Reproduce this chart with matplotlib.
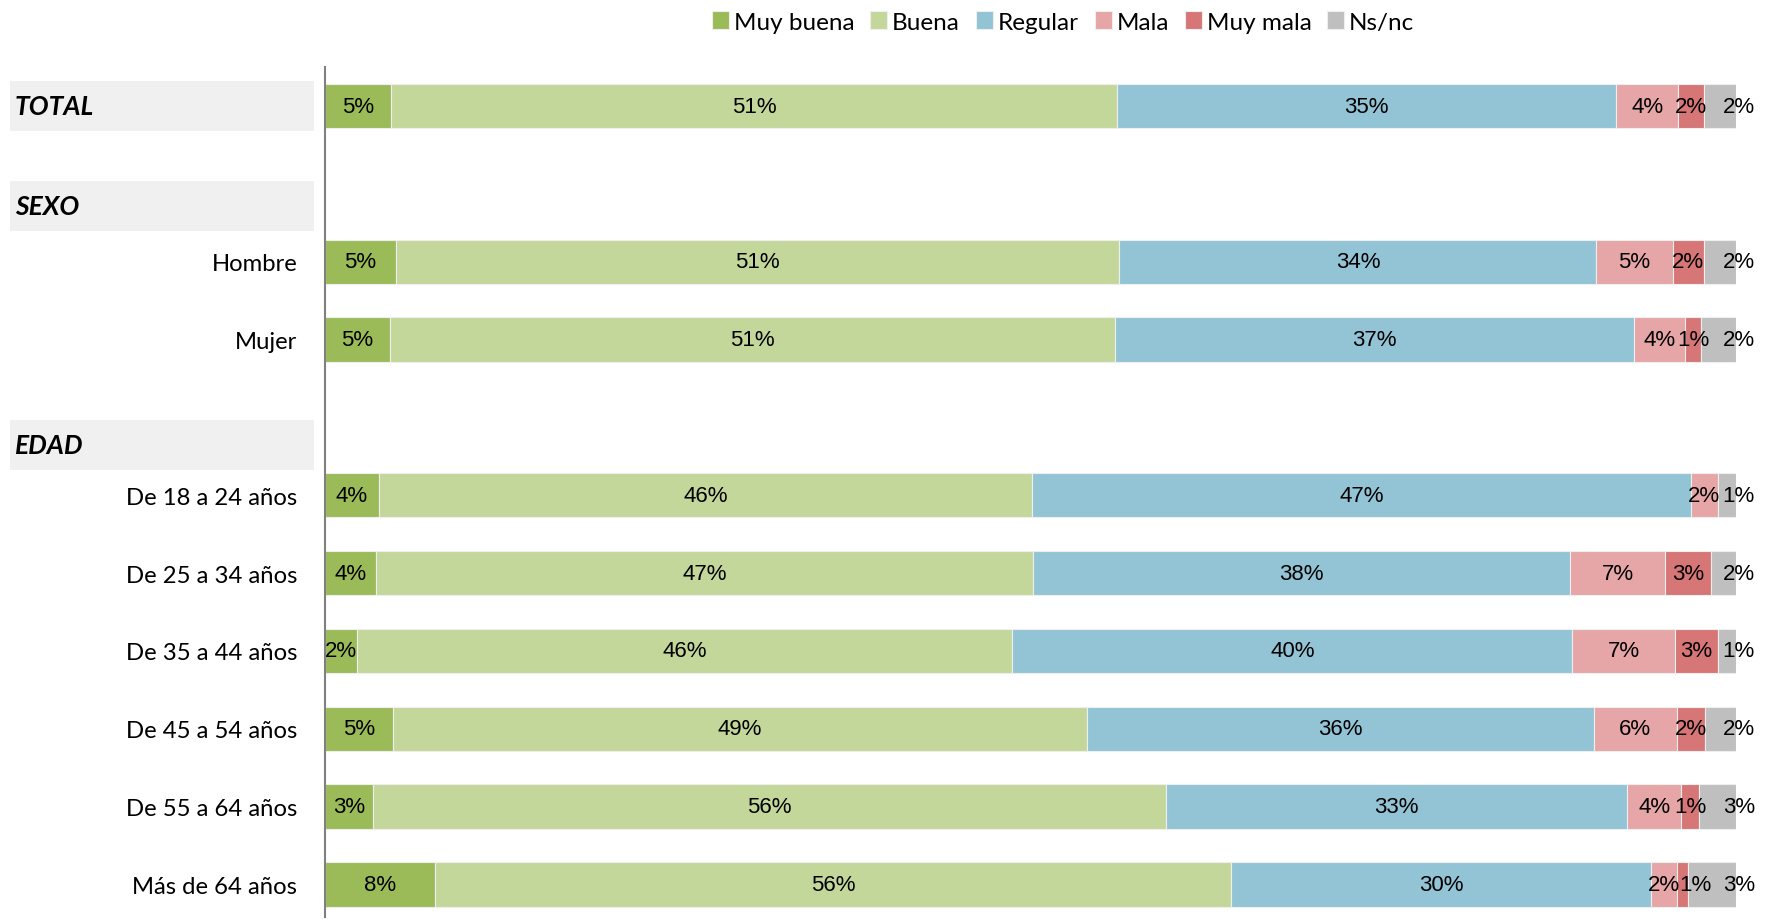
import numpy as np
import matplotlib.pyplot as plt
from matplotlib.patches import Rectangle
from matplotlib.transforms import blended_transform_factory

# Data (percentages)
series = ['Muy buena', 'Buena', 'Regular', 'Mala', 'Muy mala', 'Ns/nc']
colors = ['#9BBB59', '#C4D79B', '#93C4D6', '#E6A5A6', '#D67676', '#BFBFBF']

rows = ['TOTAL', 'Hombre', 'Mujer', 'De 18 a 24 años', 'De 25 a 34 años',
        'De 35 a 44 años', 'De 45 a 54 años', 'De 55 a 64 años', 'Más de 64 años']
row_pos = [0, 2, 3, 5, 6, 7, 8, 9, 10]

muy_buena = [4.7, 5.0, 4.6, 3.8, 3.6, 2.3, 4.8, 3.4, 7.8]
buena     = [51.4, 51.3, 51.4, 46.3, 46.6, 46.4, 49.2, 56.2, 56.4]
regular   = [35.4, 33.8, 36.8, 46.7, 38.0, 39.7, 35.9, 32.7, 29.8]
mala      = [4.4, 5.4, 3.6, 1.9, 6.8, 7.3, 5.9, 3.8, 1.8]
muy_mala  = [1.8, 2.2, 1.1, 0.0, 3.2, 3.0, 2.0, 1.3, 0.8]
ns_nc     = [2.3, 2.3, 2.5, 1.3, 1.8, 1.3, 2.2, 2.6, 3.4]

headers = ['TOTAL', 'SEXO', 'EDAD']
header_pos = [0, 1.28, 4.35]

data = np.array([muy_buena, buena, regular, mala, muy_mala, ns_nc])

fig = plt.figure(figsize=(17.72, 9.2), dpi=100)
ax = fig.add_axes([0.1834, 0.002, 0.7963, 0.924])

left = np.zeros(len(rows))
for i, (name, col) in enumerate(zip(series, colors)):
    vals = data[i]
    ax.barh(row_pos, vals, left=left, height=0.57, color=col,
            edgecolor='#EEEEEE', linewidth=0.8, label=name)
    for y, l, v in zip(row_pos, left, vals):
        if v <= 0:
            continue
        x = l + v / 2
        if name == 'Ns/nc':
            x = l + v + 0.2
        elif v < 1:
            # tiny segment: nudge label so it does not sit on its neighbour
            x += 0.9
        ax.text(x, y, f'{v:.0f}%', ha='center', va='center',
                fontsize=16, family='Liberation Sans', color='black')
    left += vals

ax.set_xlim(0, 100)
ax.set_ylim(10.42, -0.5)
ax.set_xticks([])
ax.set_yticks(row_pos[1:])
ax.set_yticklabels(rows[1:], family='Lato', fontsize=17.2)
ax.tick_params(axis='y', length=0, pad=20)
for s in ['top', 'right', 'bottom']:
    ax.spines[s].set_visible(False)
ax.spines['left'].set_color('#808080')
ax.spines['left'].set_linewidth(1.5)

# header boxes on the left
trans = blended_transform_factory(fig.transFigure, ax.transData)
for h, y in zip(headers, header_pos):
    ax.add_patch(Rectangle((10 / 1772, y - 0.32), (314 - 10) / 1772, 0.64,
                           transform=trans, facecolor='#F0F0F0',
                           edgecolor='none', clip_on=False))
    ax.text(15 / 1772, y, h, transform=trans, ha='left', va='center',
            family='Lato', fontsize=19, fontweight='bold', fontstyle='italic')

fig.legend(loc='center', bbox_to_anchor=(0.6, 0.975), ncol=6, frameon=False,
           prop={'family': 'Lato', 'size': 17.5}, handlelength=0.7,
           handleheight=0.7, handletextpad=0.2, columnspacing=0.65)

fig.savefig('out.png', dpi=100)
